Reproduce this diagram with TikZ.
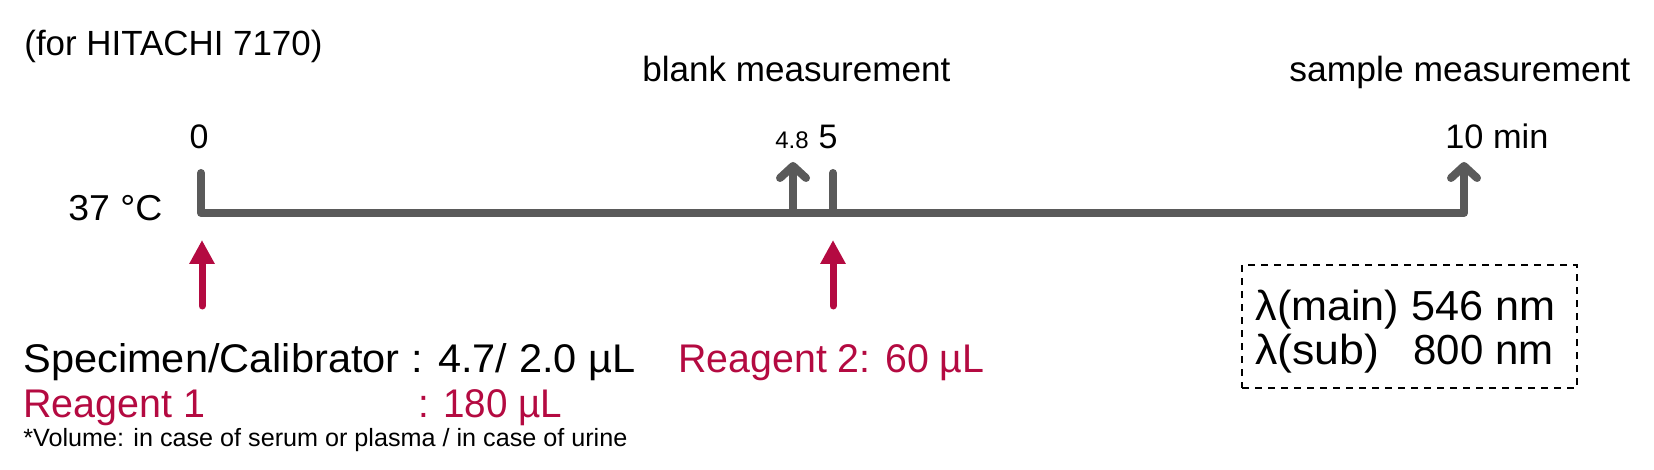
\documentclass[tikz,border=0pt]{standalone}
\usepackage{fontspec}
\setmainfont{Liberation Sans}
\usetikzlibrary{arrows.meta}
\definecolor{tlgray}{RGB}{90,90,90}
\definecolor{rred}{RGB}{180,10,65}
\newcommand\fitw[2]{\resizebox{#1}{\height}{#2}}
\begin{document}
\begin{tikzpicture}[x=0.5pt,y=-0.5pt,
  txt/.style={inner sep=0pt,anchor=base west},
  ctxt/.style={inner sep=0pt,anchor=base},
  midfont/.style={font=\fontsize{17pt}{20pt}\selectfont},
  topfont/.style={font=\fontsize{17.5pt}{21pt}\selectfont},
  bigfont/.style={font=\fontsize{20pt}{24pt}\selectfont},
  boxfont/.style={font=\fontsize{21pt}{25pt}\selectfont},
  smallfont/.style={font=\fontsize{12.5pt}{15pt}\selectfont},
  tl/.style={draw=tlgray,line width=4pt,line cap=round,line join=round},
  barb/.style={-{Straight Barb[length=6pt,width=13pt,round]}},
  redarrow/.style={draw=rred,line width=3.5pt,line cap=round,-{Triangle[length=12pt,width=12pt]}},
  wbox/.style={draw=black,line width=1pt,dash pattern=on 3.5pt off 3pt,inner sep=0pt}]
\useasboundingbox (0,0) rectangle (1654,470);

% top texts
\node[txt,font=\fontsize{17.5pt}{21pt}\selectfont] (hitachi) at (24,56) {\fitw{149pt}{(for HITACHI 7170)}};
\node[txt,topfont] (blank) at (642,82) {\fitw{154pt}{blank measurement}};
\node[txt,topfont] (sample) at (1289,82) {\fitw{170.5pt}{sample measurement}};

% time labels
\node[ctxt,midfont] (n0) at (199,149) {0};
\node[ctxt,font=\fontsize{12pt}{14pt}\selectfont] (n48) at (792,149) {4.8};
\node[ctxt,midfont] (n5) at (828,149) {5};
\node[txt,midfont] (n10) at (1445,149) {\fitw{51.5pt}{10 min}};
\node[txt,font=\fontsize{18pt}{21pt}\selectfont] (temp) at (68,221) {\fitw{47pt}{37 °C}};

% timeline
\coordinate (a0) at (201,173);
\coordinate (b0) at (201,213);
\coordinate (c10) at (1464,213);
\coordinate (a10) at (1464,162);
\coordinate (b48) at (793,213);
\coordinate (a48) at (793,162);
\coordinate (b5) at (833,213);
\coordinate (a5) at (833,173);
\draw[tl,barb] (a0) -- (b0) -- (c10) -- (a10);
\draw[tl,barb] (b48) -- (a48);
\draw[tl] (b5) -- (a5);

% red arrows
\coordinate (r0s) at (202,306);
\coordinate (r0t) at (202,240);
\coordinate (r5s) at (833,306);
\coordinate (r5t) at (833,240);
\draw[redarrow] (r0s) -- (r0t);
\draw[redarrow] (r5s) -- (r5t);

% bottom texts
\node[txt,bigfont] (spec) at (23,372) {\fitw{306pt}{Specimen/Calibrator : 4.7/ 2.0 µL}};
\node[txt,bigfont,text=rred] (r1) at (23,417) {\fitw{91pt}{Reagent 1}};
\node[txt,bigfont,text=rred] (r1v) at (418,417) {\fitw{72pt}{: 180 µL}};
\node[txt,smallfont] (vol) at (23,446) {\fitw{302pt}{*Volume: in case of serum or plasma / in case of urine}};
\node[txt,bigfont,text=rred] (r2) at (678,372) {\fitw{153pt}{Reagent 2: 60 µL}};

% wavelength box
\node[wbox,minimum width=167.5pt,minimum height=61.5pt] (box) at (1409.5,326.5) {};
\node[txt,boxfont] (lmain) at (1255,321) {\fitw{150pt}{λ(main) 546 nm}};
\node[txt,boxfont] (lsub) at (1255,364) {\fitw{62pt}{λ(sub)}};
\node[txt,boxfont] (nm800) at (1413,364) {\fitw{70pt}{800 nm}};
\end{tikzpicture}
\end{document}
